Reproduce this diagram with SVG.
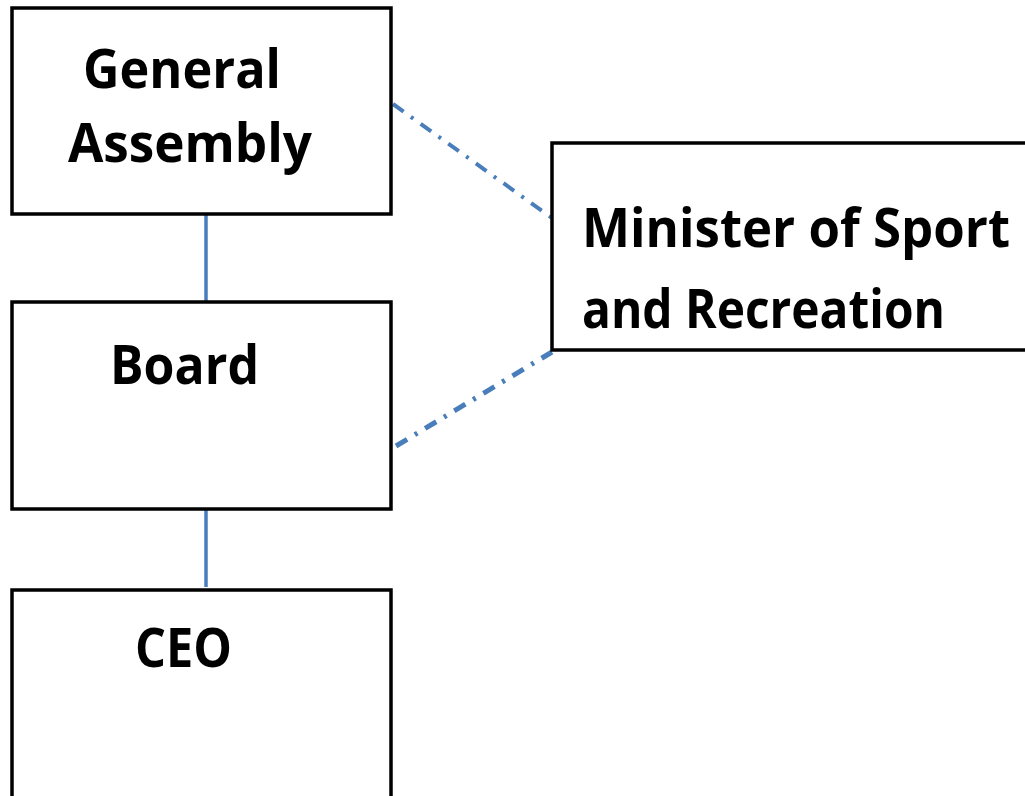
<svg xmlns="http://www.w3.org/2000/svg" width="1025" height="796" viewBox="0 0 1025 796">
<style>
.box{fill:#fff;stroke:#000;stroke-width:3.5}
.lbl{font-family:"Open Sans","Liberation Sans",sans-serif;font-weight:bold;font-size:53px;fill:#000}
.solid{stroke:#4a7ebb;stroke-width:3.5;fill:none}
.dd{stroke:#4a7ebb;fill:none;stroke-dasharray:13 9 3 9}
</style>
<rect width="1025" height="796" fill="#fff"/>
<g id="connectors">
<line class="solid" x1="206" y1="215" x2="206" y2="301"/>
<line class="solid" x1="206" y1="510" x2="206" y2="587"/>
<line class="dd" x1="393" y1="104" x2="552" y2="218" stroke-width="4"/>
<line class="dd" x1="396" y1="446" x2="552" y2="352" stroke-width="5"/>
</g>
<g id="general-assembly">
<rect class="box" x="12" y="8" width="379" height="206"/>
<text class="lbl" x="83" y="88" textLength="198" lengthAdjust="spacingAndGlyphs">General</text>
<text class="lbl" x="68" y="162" textLength="244" lengthAdjust="spacingAndGlyphs">Assembly</text>
</g>
<g id="board">
<rect class="box" x="12" y="302" width="379" height="207"/>
<text class="lbl" x="110" y="384" textLength="149" lengthAdjust="spacingAndGlyphs">Board</text>
</g>
<g id="ceo">
<rect class="box" x="12" y="590" width="379" height="220"/>
<text class="lbl" x="135" y="667" textLength="97" lengthAdjust="spacingAndGlyphs">CEO</text>
</g>
<g id="minister">
<rect class="box" x="552" y="143" width="490" height="207"/>
<text class="lbl" x="582" y="247" textLength="428" lengthAdjust="spacingAndGlyphs">Minister of Sport</text>
<text class="lbl" x="582" y="328" textLength="363" lengthAdjust="spacingAndGlyphs">and Recreation</text>
</g>
</svg>
